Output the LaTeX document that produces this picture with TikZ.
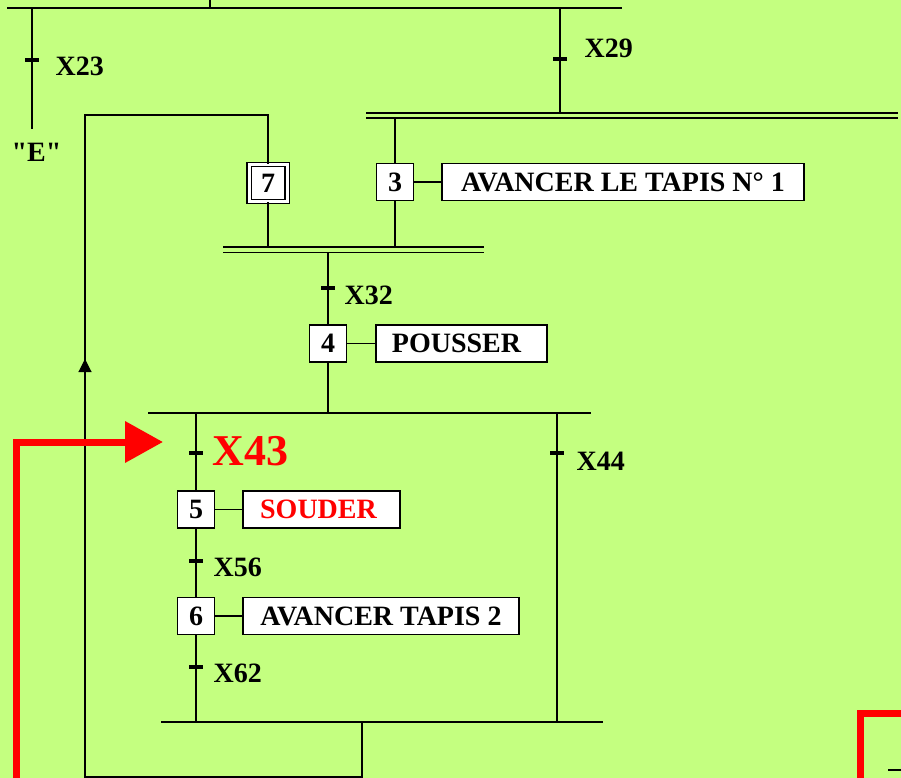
\documentclass[tikz,border=0pt]{standalone}
\usepackage{fontspec}
\setmainfont{Liberation Serif}
\newfontfamily\droit{Liberation Serif}[Ligatures=ResetAll]
\usetikzlibrary{arrows.meta}
\definecolor{fond}{RGB}{196,255,128}
\definecolor{rouge}{RGB}{255,0,0}

\begin{document}
\begin{tikzpicture}[
  x=1pt, y=-1pt,
  line width=1.1pt,
  every node/.style={font=\fontsize{28}{28}\selectfont\bfseries, inner sep=0pt},
  etape/.style={draw, fill=white, minimum width=37, minimum height=37},
  action/.style={draw, fill=white, minimum height=37},
  recept/.style={anchor=west},
  trait/.style={line width=3.4pt},
  bigred/.style={draw=rouge, line width=7pt}
]
\fill[fond] (0,0) rectangle (901,778);
\useasboundingbox (0,0) rectangle (901,778);

% steps and actions
\node[etape, double, double distance=3, minimum width=38] (e7) at (268,183) {7};
\node[etape] (e3) at (395,182) {3};
\node[action, minimum width=362] (a3) at (623,182) {AVANCER LE TAPIS N° 1};
\node[etape] (e4) at (328,343.5) {4};
\node[action, minimum width=171] (a4) at (461.5,343.5) {\hspace*{-10pt}POUSSER};
\node[etape] (e5) at (196,509.5) {5};
\node[action, minimum width=157, text=rouge] (a5) at (321.5,509.5) {\hspace*{-6pt}SOUDER};
\node[etape] (e6) at (196,616) {6};
\node[action, minimum width=276] (a6) at (381,616) {AVANCER TAPIS 2};

% receptivities
\node[recept] (r23) at (55,66) {X23};
\node[recept] (r29) at (584,48) {X29};
\node[recept] (r32) at (344,295) {X32};
\node[recept, text=rouge, font=\fontsize{44}{44}\selectfont\bfseries] (r43) at (212,451) {X43};
\node[recept] (r56) at (213,567) {X56};
\node[recept] (r62) at (213,673) {X62};
\node[recept] (r44) at (576,461) {X44};
\node[recept] (lE) at (11,152) {{\droit\bfseries "E"}};

% coordinates
\coordinate (hautG) at (7,8);
\coordinate (hautD) at (622,8);
\coordinate (h210) at (210,0);
\coordinate (b23) at (32,129);
\coordinate (t23) at (32,60);
\coordinate (t29) at (560,59);
\coordinate (t32) at (328,288);
\coordinate (t43) at (196,453);
\coordinate (t56) at (196,561);
\coordinate (t62) at (196,667);
\coordinate (t44) at (557,453);
\coordinate (conv) at (362,722);
\coordinate (boucleB) at (85,777);
\coordinate (boucleH) at (85,115);

% top lines
\draw (hautG) -- (hautD);
\draw (h210) -- (h210 |- hautG);
\draw (t23 |- hautG) -- (b23);
\draw (t29 |- hautG) -- (t29 |- 0,113);

% AND divergence
\draw (366,113) -- (898,113);
\draw (366,118) -- (898,118);
\draw (e3.north |- 0,118) -- (e3);
\draw (e3) -- (a3);

% AND convergence
\draw (223,247) -- (484,247);
\draw (223,252.5) -- (484,252.5);
\draw (e7) -- (e7 |- 0,247);
\draw (e3) -- (e3 |- 0,247);
\draw (e4 |- 0,252.5) -- (e4);
\draw (e4) -- (a4);

% OR divergence
\draw (148,413) -- (591,413);
\draw (e4) -- (e4 |- 0,413);
\draw (e5 |- 0,413) -- (e5);
\draw (e5) -- (a5);
\draw (e5) -- (e6);
\draw (e6) -- (a6);
\draw (e6) -- (e6 |- conv);
\draw (t44 |- 0,413) -- (t44 |- conv);

% OR convergence and loop back to 7
\draw (161,722) -- (603,722);
\draw (conv) |- (boucleB) -- (boucleH) -| (e7);
\draw[-{Triangle[length=13pt,width=13pt]}] (85,400) -- (85,359);

% transition marks
\foreach \t in {t23,t29,t32,t43,t56,t62,t44}
  \draw[trait] ([xshift=-7]\t) -- ([xshift=7]\t);

% red pointers
\draw[bigred, -{Triangle[length=38pt,width=40pt]}] (16,790) |- (163,442);
\draw[bigred] (860,790) |- (905,713);
\draw (888,770) -- (901,770);
\end{tikzpicture}
\end{document}
